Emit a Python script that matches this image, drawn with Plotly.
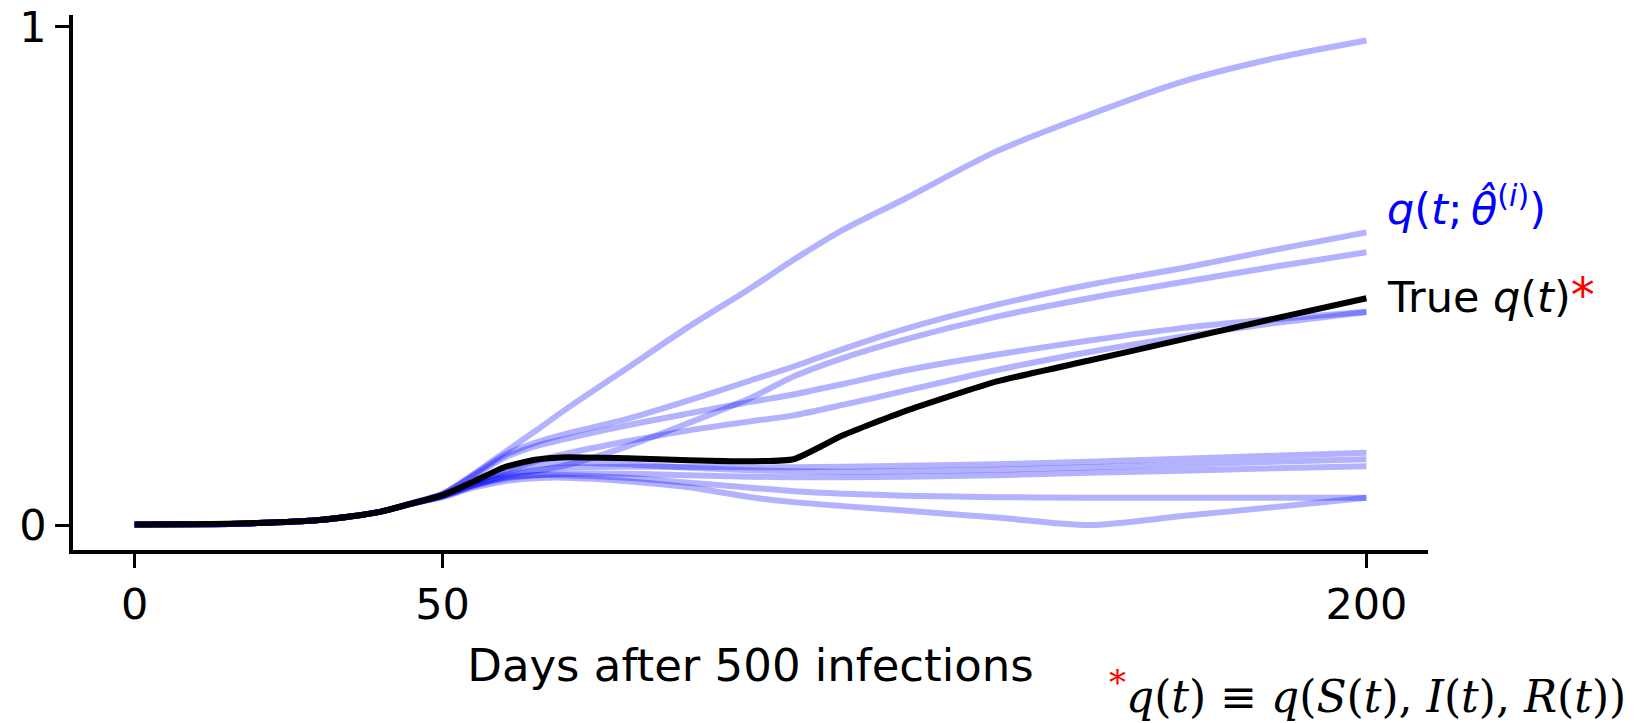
import plotly.graph_objects as go

# ---- data ----
days = [0, 10, 20, 30, 35, 40, 45, 50, 55, 60, 65, 70, 80, 90, 100, 107, 115, 125, 140, 155, 170, 185, 200]

true_q = [0.001, 0.0015, 0.004, 0.010, 0.017, 0.027, 0.043, 0.060, 0.087, 0.116, 0.131, 0.136, 0.134,
          0.130, 0.128, 0.132, 0.180, 0.228, 0.288, 0.330, 0.372, 0.414, 0.455]

fit_a = [0.001, 0.0015, 0.004, 0.010, 0.017, 0.027, 0.044, 0.063, 0.102, 0.145, 0.188, 0.232, 0.315,
         0.398, 0.475, 0.532, 0.592, 0.654, 0.750, 0.823, 0.889, 0.936, 0.972]
fit_b = [0.001, 0.0015, 0.004, 0.010, 0.017, 0.027, 0.044, 0.062, 0.100, 0.140, 0.165, 0.183, 0.213,
         0.250, 0.290, 0.318, 0.353, 0.393, 0.442, 0.482, 0.515, 0.552, 0.587]
fit_c = [0.001, 0.0015, 0.004, 0.010, 0.017, 0.027, 0.043, 0.059, 0.080, 0.097, 0.108, 0.120, 0.158,
         0.205, 0.255, 0.298, 0.335, 0.372, 0.418, 0.455, 0.487, 0.518, 0.547]
fit_d = [0.001, 0.0015, 0.004, 0.010, 0.017, 0.027, 0.044, 0.062, 0.098, 0.135, 0.158, 0.173, 0.200,
         0.224, 0.247, 0.262, 0.283, 0.310, 0.342, 0.370, 0.395, 0.413, 0.428]
fit_e = [0.001, 0.0015, 0.004, 0.010, 0.017, 0.027, 0.043, 0.060, 0.085, 0.108, 0.128, 0.143, 0.168,
         0.190, 0.208, 0.220, 0.241, 0.269, 0.311, 0.347, 0.378, 0.405, 0.427]
fit_f = [0.001, 0.0015, 0.004, 0.010, 0.017, 0.027, 0.043, 0.058, 0.080, 0.100, 0.110, 0.115, 0.117,
         0.117, 0.116, 0.116, 0.117, 0.119, 0.122, 0.127, 0.133, 0.139, 0.145]
fit_g = [0.001, 0.0015, 0.004, 0.010, 0.017, 0.027, 0.043, 0.060, 0.085, 0.105, 0.120, 0.125, 0.122,
         0.115, 0.110, 0.108, 0.107, 0.108, 0.111, 0.116, 0.121, 0.127, 0.132]
fit_h = [0.001, 0.0015, 0.004, 0.010, 0.017, 0.027, 0.043, 0.057, 0.078, 0.093, 0.100, 0.103, 0.103,
         0.100, 0.097, 0.096, 0.096, 0.097, 0.100, 0.105, 0.109, 0.114, 0.118]
fit_i = [0.001, 0.0015, 0.004, 0.010, 0.017, 0.027, 0.043, 0.058, 0.080, 0.095, 0.100, 0.100, 0.095,
         0.085, 0.075, 0.068, 0.063, 0.059, 0.056, 0.055, 0.055, 0.055, 0.055]
fit_j = [0.001, 0.0015, 0.004, 0.010, 0.017, 0.027, 0.043, 0.056, 0.075, 0.088, 0.094, 0.095, 0.088,
         0.076, 0.056, 0.046, 0.038, 0.029, 0.015, 0.000, 0.018, 0.036, 0.055]

fits = [fit_a, fit_b, fit_c, fit_d, fit_e, fit_f, fit_g, fit_h, fit_i, fit_j]

x_ticks = [0, 50, 200]
x_tick_labels = ["0", "50", "200"]
y_ticks = [0, 1]
y_tick_labels = ["0", "1"]

fig = go.Figure()
for f in fits:
    fig.add_trace(go.Scatter(x=days, y=f, mode="lines",
                             line=dict(color="rgba(0,0,255,0.3)", width=6,
                                       shape="spline", smoothing=0.8),
                             hoverinfo="skip", showlegend=False))
fig.add_trace(go.Scatter(x=days, y=true_q, mode="lines",
                         line=dict(color="black", width=6, shape="spline", smoothing=0.5),
                         showlegend=False))

font_main = "DejaVu Sans"
fig.update_layout(
    width=1634, height=723,
    margin=dict(l=73, r=206, t=15, b=173, autoexpand=False),
    plot_bgcolor="white", paper_bgcolor="white",
    showlegend=False,
    font=dict(family=font_main, color="black"),
    xaxis=dict(range=[-10, 210], tickvals=x_ticks, ticktext=x_tick_labels,
               ticks="outside", ticklen=14, tickwidth=3, tickcolor="black",
               showline=True, linewidth=3.5, linecolor="black",
               showgrid=False, zeroline=False, automargin=False,
               tickfont=dict(size=43, family=font_main, color="black"),
               title=dict(text="Days after 500 infections", standoff=22,
                          font=dict(size=45, family=font_main, color="black"))),
    yaxis=dict(range=[-0.05, 1.023], tickvals=y_ticks, ticktext=y_tick_labels,
               ticks="outside", ticklen=14, tickwidth=3, tickcolor="black",
               showline=True, linewidth=3.5, linecolor="black",
               showgrid=False, zeroline=False, automargin=False,
               tickfont=dict(size=43, family=font_main, color="black")),
)

fig.add_annotation(x=203, y=0.640, xref="x", yref="y", xanchor="left", yanchor="middle",
                   showarrow=False,
                   text="<i>q</i>(<i>t</i>;\u2009<i>\u03b8\u0302</i><sup>(<i>i</i>)</sup>)",
                   font=dict(size=43, family=font_main, color="#0000ff"))
fig.add_annotation(x=203, y=0.462, xref="x", yref="y", xanchor="left", yanchor="middle",
                   showarrow=False,
                   text="True <i>q</i>(<i>t</i>)<span style='color:#ff0000;font-size:48px'>*</span>",
                   font=dict(size=43, family=font_main, color="black"))
fig.add_annotation(x=1.1476, y=-0.266, xref="paper", yref="paper", xanchor="right", yanchor="middle",
                   showarrow=False,
                   text="<sup><span style='color:#ff0000;font-size:34px'>*</span></sup>"
                        "<i>q</i>(<i>t</i>) \u2261 "
                        "<i>q</i>(<i>S</i>(<i>t</i>), <i>I</i>(<i>t</i>), <i>R</i>(<i>t</i>))",
                   font=dict(size=44, family="DejaVu Serif", color="black"))

fig.write_html("out.html")
